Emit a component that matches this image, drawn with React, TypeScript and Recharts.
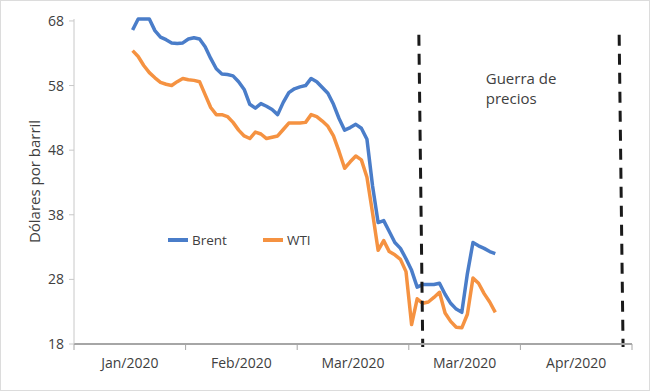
import React from 'react';
import {
  LineChart,
  Line,
  XAxis,
  YAxis,
  Legend,
  ReferenceLine,
  ReferenceArea,
} from 'recharts';

// Precios diarios (USD/barril)
const BRENT = [
  66.6, 68.3, 68.3, 68.3, 66.5, 65.5, 65.1, 64.6, 64.5, 64.6,
  65.2, 65.4, 65.2, 64.0, 62.2, 60.6, 59.8, 59.7, 59.5, 58.6,
  57.4, 55.1, 54.5, 55.2, 54.8, 54.3, 53.5, 55.4, 56.9, 57.5,
  57.8, 58.0, 59.1, 58.6, 57.7, 56.8, 55.1, 52.9, 51.1, 51.5,
  52.0, 51.4, 49.7, 42.5, 36.8, 37.1, 35.4, 33.7, 32.8, 31.2,
  29.4, 26.8, 27.2, 27.2, 27.2, 27.4, 25.7, 24.3, 23.4, 22.9,
  28.9, 33.7, 33.2, 32.8, 32.3, 32.0,
];

const WTI = [
  63.4, 62.5, 61.1, 60.0, 59.2, 58.5, 58.2, 58.0, 58.6, 59.1,
  58.9, 58.8, 58.6, 56.6, 54.6, 53.5, 53.5, 53.2, 52.3, 51.1,
  50.2, 49.8, 50.8, 50.5, 49.8, 50.0, 50.2, 51.2, 52.2, 52.2,
  52.2, 52.3, 53.5, 53.2, 52.5, 51.7, 50.2, 47.8, 45.2, 46.2,
  47.1, 46.5, 43.8, 38.3, 32.5, 34.0, 32.3, 31.8, 31.1, 29.2,
  21.0, 25.0, 24.3, 24.5, 25.2, 26.0, 22.8, 21.5, 20.6, 20.5,
  22.6, 28.2, 27.4, 25.8, 24.5, 22.9,
];

const MONTHS = ['Jan/2020', 'Feb/2020', 'Mar/2020', 'Mar/2020', 'Apr/2020'];
const Y_TICKS = [18, 28, 38, 48, 58, 68];

// eje x en días; cada etiqueta ocupa una franja de 20 días
const X_MIN = -10.5;
const BAND = 20;
const X_TICKS = [0, 1, 2, 3, 4, 5].map((k) => X_MIN + k * BAND);
const X_MAX = X_TICKS[X_TICKS.length - 1];

// límites del periodo "Guerra de precios" (segmentos algo inclinados)
const WAR_START = [51.3, 52.0];
const WAR_END = [87.2, 87.9];

const W = 650;
const H = 391;
const MARGIN = { top: 19, right: 18, bottom: 0, left: 0 };
const Y_AXIS_W = 74;
const BAND_PX = (W - MARGIN.left - MARGIN.right - Y_AXIS_W) / MONTHS.length;

const BRENT_COLOR = '#4a7dc9';
const WTI_COLOR = '#f59241';
const TEXT = '#404040';
const FONT = "'Open Sans', sans-serif";

const data = BRENT.map((b, i) => ({ day: i, brent: b, wti: WTI[i] }));

const MonthTick = (props: any) => {
  const { x, y, payload } = props;
  const k = Math.round((payload.value - X_MIN) / BAND);
  if (k >= MONTHS.length) return null;
  return (
    <text x={x + BAND_PX / 2} y={y} dy={16} textAnchor="middle" fill={TEXT} fontSize={14} fontFamily={FONT}>
      {MONTHS[k]}
    </text>
  );
};

const YLabel = (props: any) => {
  const vb = props.viewBox;
  const cx = vb.x + 40;
  const cy = vb.y + vb.height / 2;
  return (
    <text
      x={cx}
      y={cy}
      transform={`rotate(-90 ${cx} ${cy})`}
      textAnchor="middle"
      fill={TEXT}
      fontSize={15}
      fontFamily={FONT}
    >
      Dólares por barril
    </text>
  );
};

const WarLabel = (props: any) => {
  const vb = props.viewBox;
  const x = vb.x + 63;
  return (
    <text x={x} y={84} fill={TEXT} fontSize={15} fontFamily={FONT}>
      <tspan x={x}>Guerra de</tspan>
      <tspan x={x} dy={20}>precios</tspan>
    </text>
  );
};

const LegendBox = (props: any) => {
  const items = props.payload || [];
  return (
    <div style={{ display: 'flex', alignItems: 'center', fontFamily: FONT, fontSize: 13.5, color: TEXT }}>
      {items.map((it: any, i: number) => (
        <div key={i} style={{ display: 'flex', alignItems: 'center', marginRight: i === 0 ? 36 : 0 }}>
          <span style={{ display: 'inline-block', width: 20, height: 4, background: it.color, marginRight: 4 }} />
          <span>{it.value}</span>
        </div>
      ))}
    </div>
  );
};

export default function App() {
  return (
    <div
      style={{
        position: 'absolute',
        left: 0,
        top: 0,
        width: W,
        height: H,
        boxSizing: 'border-box',
        border: '1px solid #dcdcdc',
        background: '#fff',
      }}
    >
      <div style={{ position: 'absolute', left: -1, top: -1 }}>
        <LineChart width={W} height={H} data={data} margin={MARGIN}>
          <XAxis
            dataKey="day"
            type="number"
            domain={[X_MIN, X_MAX]}
            ticks={X_TICKS}
            interval={0}
            height={H - 344}
            axisLine={{ stroke: '#a6a6a6', strokeWidth: 2 }}
            tickLine={{ stroke: '#a6a6a6', strokeWidth: 1 }}
            tickSize={6}
            tick={<MonthTick />}
          />
          <YAxis
            type="number"
            domain={[18, 68]}
            ticks={Y_TICKS}
            interval={0}
            width={Y_AXIS_W}
            axisLine={{ stroke: '#c8c8c8' }}
            tickLine={{ stroke: '#c8c8c8' }}
            tickSize={5}
            tickMargin={5}
            tick={{ fill: TEXT, fontSize: 14, fontFamily: FONT }}
            label={{ content: YLabel }}
          />
          <ReferenceArea
            x1={WAR_START[1]}
            x2={WAR_END[1]}
            y1={18}
            y2={68}
            fillOpacity={0}
            strokeOpacity={0}
            label={{ content: WarLabel }}
          />
          <Line
            dataKey="brent"
            name="Brent"
            stroke={BRENT_COLOR}
            strokeWidth={3.5}
            dot={false}
            strokeLinejoin="round"
            isAnimationActive={false}
          />
          <Line
            dataKey="wti"
            name="WTI"
            stroke={WTI_COLOR}
            strokeWidth={3.5}
            dot={false}
            strokeLinejoin="round"
            isAnimationActive={false}
          />
          <ReferenceLine
            segment={[
              { x: WAR_START[0], y: 65.85 },
              { x: WAR_START[1], y: 17.55 },
            ]}
            stroke="#1a1a1a"
            strokeWidth={3}
            strokeDasharray="11 8"
            ifOverflow="visible"
          />
          <ReferenceLine
            segment={[
              { x: WAR_END[0], y: 65.85 },
              { x: WAR_END[1], y: 17.55 },
            ]}
            stroke="#1a1a1a"
            strokeWidth={3}
            strokeDasharray="11 8"
            ifOverflow="visible"
          />
          <Legend
            layout="horizontal"
            verticalAlign="middle"
            align="center"
            content={<LegendBox />}
            wrapperStyle={{ position: 'absolute', left: 168, top: 231, width: 'auto', bottom: 'auto' }}
          />
        </LineChart>
      </div>
    </div>
  );
}
